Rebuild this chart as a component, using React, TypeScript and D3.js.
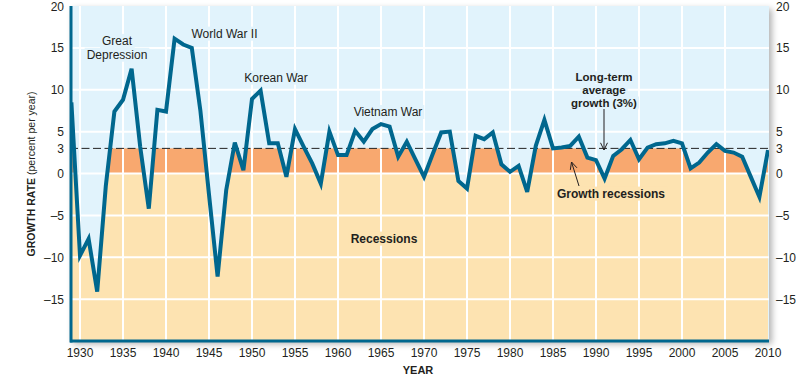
import React, { useEffect, useRef } from "react";
import * as d3 from "d3";

// ---- data ----
const years: number[] = d3.range(1929, 2011);
const growth: number[] = [
  8.5,
  -9.8, -7.8, -14.1, -1.5, 7.4, 8.8, 12.5, 3.2, -4.2, 7.6,
  7.4, 16.1, 15.4, 15.0, 7.5, -2.5, -12.3, -2.0, 3.7, 0.4,
  8.9, 9.9, 3.6, 3.6, -0.4, 5.3, 3.2, 1.2, -1.2, 5.0,
  2.2, 2.2, 5.1, 3.8, 5.3, 5.9, 5.6, 2.0, 3.8, 1.7,
  -0.4, 2.3, 4.9, 5.0, -0.9, -1.8, 4.5, 4.1, 4.9, 1.1,
  0.2, 0.9, -2.2, 3.3, 6.4, 3.0, 3.1, 3.3, 4.4, 1.9,
  1.6, -0.6, 2.1, 2.9, 4.0, 1.7, 3.1, 3.5, 3.6, 3.9,
  3.6, 0.6, 1.3, 2.5, 3.5, 2.7, 2.5, 2.0, -0.4, -2.8,
  2.8,
];
const longTermAverage = 3;
const yTickValues: number[] = [20, 15, 10, 5, 3, 0, -5, -10, -15];
const yGridValues: number[] = [15, 10, 5, 0, -5, -10, -15];
const xTickValues: number[] = d3.range(1930, 2011, 5);
const xGridValues: number[] = d3.range(1930, 2010, 5);

// ---- styles ----
const W = 805;
const H = 380;
const PL = 70, PR = 769, PT = 6, PB = 341;
const C_BLUE = "#E1F3FC";
const C_ORANGE = "#F8A86F";
const C_TAN = "#FDE3B1";
const C_LINE = "#00678E";
const C_TEXT = "#231F20";
const FONT = "'Liberation Sans', Arial, Helvetica, sans-serif";

const fmt = (v: number) => (v < 0 ? "\u2013" + Math.abs(v) : String(v));

export default function App() {
  const ref = useRef<SVGSVGElement | null>(null);

  useEffect(() => {
    const svg = d3.select(ref.current!);
    svg.selectAll("*").remove();

    const x = d3.scaleLinear().domain([1930, 2010]).range([80, 768]);
    const y = d3.scaleLinear().domain([-20, 20]).range([PB, PT]);
    const data = years.map((yr, i) => ({ yr, v: growth[i] }));

    const defs = svg.append("defs");
    const f = defs.append("filter").attr("id", "shadow")
      .attr("x", "-5%").attr("y", "-5%").attr("width", "110%").attr("height", "115%");
    f.append("feDropShadow").attr("dx", 3).attr("dy", 3).attr("stdDeviation", 3)
      .attr("flood-color", "#000").attr("flood-opacity", 0.3);

    const area = d3.area<{ yr: number; v: number }>()
      .x((d) => x(d.yr)).y0(y(-20)).y1((d) => y(d.v));
    defs.append("clipPath").attr("id", "under")
      .append("path").attr("d", area(data)!);
    defs.append("clipPath").attr("id", "plot")
      .append("rect").attr("x", PL).attr("y", PT).attr("width", PR - PL).attr("height", PB - PT);

    // background
    svg.append("rect").attr("x", PL).attr("y", PT).attr("width", PR - PL).attr("height", PB - PT)
      .attr("fill", C_BLUE).attr("filter", "url(#shadow)");

    const fills = svg.append("g").attr("clip-path", "url(#under)");
    fills.append("rect").attr("x", PL).attr("width", PR - PL)
      .attr("y", y(longTermAverage)).attr("height", y(0) - y(longTermAverage)).attr("fill", C_ORANGE);
    fills.append("rect").attr("x", PL).attr("width", PR - PL)
      .attr("y", y(0)).attr("height", y(-20) - y(0)).attr("fill", C_TAN);

    // grid
    const grid = svg.append("g").attr("stroke", "#fff").attr("stroke-width", 2);
    grid.selectAll("line.v").data(xGridValues).join("line")
      .attr("x1", (d) => x(d)).attr("x2", (d) => x(d)).attr("y1", PT).attr("y2", PB);
    grid.selectAll("line.h").data(yGridValues).join("line")
      .attr("x1", PL).attr("x2", PR).attr("y1", (d) => y(d)).attr("y2", (d) => y(d));

    const knock = svg.append("g");

    // average line
    svg.append("line").attr("x1", PL).attr("x2", PR)
      .attr("y1", y(longTermAverage)).attr("y2", y(longTermAverage))
      .attr("stroke", "#222").attr("stroke-width", 1).attr("stroke-dasharray", "8,3.5");

    // data line
    const line = d3.line<{ yr: number; v: number }>().x((d) => x(d.yr)).y((d) => y(d.v));
    svg.append("path").attr("d", line(data)!).attr("clip-path", "url(#plot)")
      .attr("fill", "none").attr("stroke", C_LINE).attr("stroke-width", 4)
      .attr("stroke-linejoin", "miter").attr("stroke-miterlimit", 4);

    // borders
    svg.append("line").attr("x1", PL + 1).attr("x2", PL + 1).attr("y1", PT).attr("y2", PB + 1.5)
      .attr("stroke", C_LINE).attr("stroke-width", 3);
    svg.append("line").attr("x1", PL).attr("x2", PR).attr("y1", PB).attr("y2", PB)
      .attr("stroke", C_LINE).attr("stroke-width", 3);

    // axis labels
    const axes = svg.append("g").attr("font-family", FONT).attr("font-size", 12).attr("fill", C_TEXT);
    axes.selectAll("text.l").data(yTickValues).join("text")
      .attr("x", 64).attr("y", (d) => y(d) + 4.5).attr("text-anchor", "end").text((d) => fmt(d));
    axes.selectAll("text.r").data(yTickValues).join("text")
      .attr("x", 776).attr("y", (d) => y(d) + 4.5).attr("text-anchor", "start").text((d) => fmt(d));
    axes.selectAll("text.b").data(xTickValues).join("text")
      .attr("x", (d) => x(d)).attr("y", 357).attr("text-anchor", "middle").text((d) => String(d));

    svg.append("text").attr("x", 418).attr("y", 374).attr("text-anchor", "middle")
      .attr("font-family", FONT).attr("font-size", 11).attr("font-weight", "bold")
      .attr("fill", C_TEXT).text("YEAR");

    const yt = svg.append("text").attr("transform", "translate(35,174) rotate(-90)")
      .attr("text-anchor", "middle").attr("font-family", FONT).attr("font-size", 10.5).attr("fill", C_TEXT);
    yt.append("tspan").attr("font-weight", "bold").text("GROWTH RATE");
    yt.append("tspan").text(" (percent per year)");

    // annotations
    type Lab = { lines: string[]; cx: number; cy: number; bold: boolean; bg: string; lh: number; fs: number };
    const labels: Lab[] = [
      { lines: ["Great", "Depression"], cx: 117, cy: 47.5, bold: false, bg: C_BLUE, lh: 13.8, fs: 12 },
      { lines: ["World War II"], cx: 224.5, cy: 33.3, bold: false, bg: C_BLUE, lh: 13, fs: 12 },
      { lines: ["Korean War"], cx: 276, cy: 77.3, bold: false, bg: C_BLUE, lh: 13, fs: 12 },
      { lines: ["Vietnam War"], cx: 388, cy: 111.7, bold: false, bg: C_BLUE, lh: 13, fs: 12 },
      { lines: ["Long-term", "average", "growth (3%)"], cx: 604, cy: 89.8, bold: true, bg: C_BLUE, lh: 12.6, fs: 11.5 },
      { lines: ["Growth recessions"], cx: 611, cy: 193.3, bold: true, bg: C_TAN, lh: 13, fs: 12 },
      { lines: ["Recessions"], cx: 384, cy: 238.3, bold: true, bg: C_TAN, lh: 13, fs: 12 },
    ];
    const ann = svg.append("g").attr("font-family", FONT).attr("fill", C_TEXT);
    labels.forEach((lb) => {
      const n = lb.lines.length;
      lb.lines.forEach((s, i) => {
        const t = ann.append("text").attr("text-anchor", "middle")
          .attr("font-size", lb.fs)
          .attr("font-weight", lb.bold ? "bold" : "normal")
          .attr("x", lb.cx)
          .attr("y", lb.cy + (i - (n - 1) / 2) * lb.lh + lb.fs * 0.36).text(s);
        const bb = (t.node() as SVGTextElement).getBBox();
        knock.append("rect").attr("x", bb.x - 2).attr("y", bb.y)
          .attr("width", bb.width + 4).attr("height", bb.height).attr("fill", lb.bg);
      });
    });

    // arrows
    const arrows = svg.append("g").attr("stroke", C_TEXT).attr("stroke-width", 1).attr("fill", "none");
    const arrow = (x1: number, y1: number, x2: number, y2: number) => {
      arrows.append("line").attr("x1", x1).attr("y1", y1).attr("x2", x2).attr("y2", y2);
      const a = Math.atan2(y2 - y1, x2 - x1);
      const L = 8, sp = 0.45;
      arrows.append("path").attr("d",
        `M${x2 - L * Math.cos(a - sp)},${y2 - L * Math.sin(a - sp)}L${x2},${y2}L${x2 - L * Math.cos(a + sp)},${y2 - L * Math.sin(a + sp)}`);
    };
    arrow(604, 109, 604, 150);
    arrow(579, 186, 571.5, 162);
  }, []);

  return (
    <svg ref={ref} width={W} height={H}
      style={{ position: "absolute", left: 0, top: 0, background: "#fff" }} />
  );
}
